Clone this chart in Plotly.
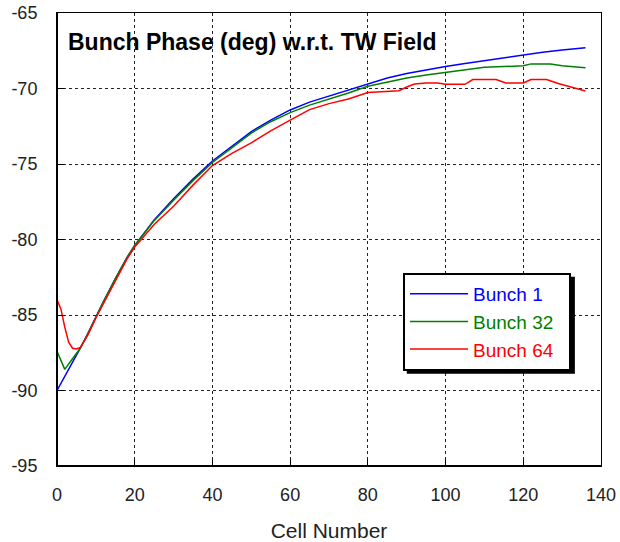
import plotly.graph_objects as go

# ---- data ----
cells_b1 = [0, 2, 4, 6, 8, 10, 12, 15, 18, 20, 25, 30, 35, 40, 45, 50, 55, 60, 65, 70,
            75, 80, 85, 90, 95, 100, 105, 110, 115, 120, 125, 130, 136]
phase_b1 = [-90.0, -89.1, -88.1, -87.2, -86.2, -85.1, -84.1, -82.6, -81.2, -80.4, -78.7,
            -77.3, -76.0, -74.8, -73.8, -72.85, -72.1, -71.42, -70.9, -70.5, -70.1, -69.72,
            -69.3, -69.0, -68.75, -68.55, -68.35, -68.15, -67.95, -67.76, -67.6, -67.45, -67.3]

cells_b32 = [0, 2, 4, 6, 8, 10, 12, 15, 18, 20, 25, 30, 35, 40, 45, 50, 55, 60, 65, 70,
             75, 80, 85, 90, 95, 100, 105, 110, 115, 120, 122, 127, 130, 136]
phase_b32 = [-87.4, -88.6, -87.9, -87.2, -86.2, -85.1, -84.1, -82.6, -81.2, -80.4, -78.75,
             -77.4, -76.1, -74.9, -73.9, -72.95, -72.2, -71.6, -71.1, -70.72, -70.3, -69.85,
             -69.55, -69.3, -69.1, -68.95, -68.75, -68.6, -68.55, -68.5, -68.37, -68.37,
             -68.5, -68.63]

cells_b64 = [0, 1, 2, 3, 4, 5, 6, 8, 10, 12, 15, 18, 20, 25, 30, 35, 40, 45, 50, 55, 60,
             65, 70, 75, 80, 85, 88, 90, 92, 95, 98, 100, 105, 107, 113, 115.5, 120, 122,
             126, 129, 132, 136]
phase_b64 = [-84.0, -84.6, -85.8, -86.8, -87.2, -87.25, -87.15, -86.3, -85.2, -84.2, -82.7,
             -81.3, -80.5, -79.0, -77.8, -76.4, -75.1, -74.3, -73.6, -72.8, -72.1, -71.4,
             -71.0, -70.7, -70.26, -70.2, -70.15, -69.9, -69.7, -69.63, -69.63, -69.72,
             -69.72, -69.41, -69.41, -69.63, -69.63, -69.41, -69.41, -69.67, -69.9, -70.17]

series_names = ["Bunch 1", "Bunch 32", "Bunch 64"]
series_colors = ["#0000FF", "#008000", "#FF0000"]

x_ticks = [0, 20, 40, 60, 80, 100, 120, 140]
x_tick_labels = ["0", "20", "40", "60", "80", "100", "120", "140"]
y_ticks = [-95, -90, -85, -80, -75, -70, -65]
y_tick_labels = ["-95", "-90", "-85", "-80", "-75", "-70", "-65"]

title_text = "Bunch Phase (deg) w.r.t. TW Field"
x_title = "Cell Number"

FONT = "Liberation Sans, Arial, sans-serif"
PAD = "\u00a0\u00a0"

fig = go.Figure()
for xs, ys, name, col in zip([cells_b1, cells_b32, cells_b64],
                             [phase_b1, phase_b32, phase_b64],
                             series_names, series_colors):
    fig.add_trace(go.Scatter(
        x=xs, y=ys, mode="lines", name=f"<span style='color:{col}'>{name}{PAD}</span>",
        line=dict(color=col, width=1.5),
    ))

axis_common = dict(
    showgrid=True, gridcolor="#222222", gridwidth=1, griddash="3px,3px",
    zeroline=False, showline=True, linecolor="black", linewidth=1, mirror=True,
    ticks="inside", ticklen=7, tickcolor="black", tickwidth=1, automargin=False,
    tickfont=dict(family=FONT, size=18, color="#222222"),
)

fig.update_xaxes(range=[0, 140], tickvals=x_ticks, ticktext=x_tick_labels,
                 ticklabelstandoff=12,
                 title=dict(text=x_title, font=dict(family=FONT, size=21, color="#222222"),
                            standoff=26),
                 **axis_common)
fig.update_yaxes(range=[-95, -65], tickvals=y_ticks, ticktext=y_tick_labels,
                 ticklabelstandoff=15, **axis_common)

# thicker left/bottom frame lines
fig.add_shape(type="line", xref="paper", yref="paper", x0=0, x1=0, y0=0, y1=1,
              line=dict(color="black", width=2))
fig.add_shape(type="line", xref="paper", yref="paper", x0=0, x1=1, y0=0, y1=0,
              line=dict(color="black", width=2))

# legend shadow
fig.add_shape(type="rect", xref="paper", yref="paper", x0=0.643, x1=0.952,
              y0=0.2038, y1=0.4176, fillcolor="black", line=dict(width=0), layer="above")

fig.add_annotation(text=f"<b>{title_text}</b>", xref="paper", yref="paper",
                   x=0.016, y=0.935, xanchor="left", yanchor="middle", showarrow=False,
                   font=dict(family=FONT, size=23, color="black"))

fig.update_layout(
    width=620, height=542,
    margin=dict(l=57, r=19, t=13, b=76),
    paper_bgcolor="white", plot_bgcolor="white",
    showlegend=True,
    legend=dict(x=0.636, y=0.4264, xanchor="left", yanchor="top",
                bgcolor="white", bordercolor="black", borderwidth=2,
                font=dict(family=FONT, size=19), itemwidth=58,
                tracegroupgap=0),
)

fig.write_html("out.html")
